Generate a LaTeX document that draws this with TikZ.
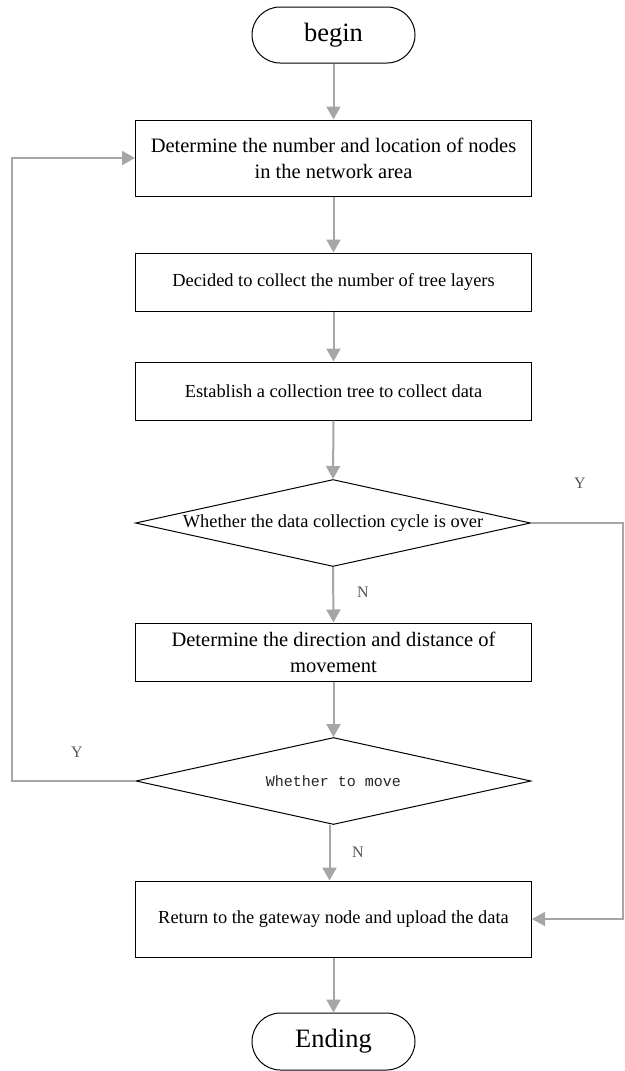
\documentclass[tikz,border=0pt]{standalone}
\usepackage{fontspec}
\setmainfont{Liberation Serif}
\newfontfamily\monof{Liberation Mono}
\usetikzlibrary{arrows.meta,shapes.geometric,shapes.misc}
\definecolor{arrowgray}{HTML}{A6A6A6}
\definecolor{labelgray}{HTML}{555555}
\tikzset{
  procbox/.style={draw=black, line width=1pt, rectangle, minimum width=396pt, inner sep=0pt, align=center},
  termbox/.style={draw=black, line width=1pt, rounded rectangle, minimum width=163pt, minimum height=56pt, inner sep=0pt, font=\fontsize{26.5}{30}\selectfont},
  decbox/.style={draw=black, line width=1pt, diamond, aspect=4.54, minimum width=395pt, minimum height=87pt, inner sep=0pt},
  flow/.style={draw=arrowgray, line width=2pt, -{Triangle[length=13pt,width=14pt]}},
  ylabel/.style={text=labelgray, font=\fontsize{16}{18}\selectfont},
  bigtxt/.style={font=\fontsize{20.5}{26}\selectfont},
  midtxt/.style={font=\fontsize{18.4}{22}\selectfont}
}
\begin{document}
\begin{tikzpicture}[x=1pt,y=-1pt]
\useasboundingbox (0,0) rectangle (624,1071);
\node[termbox] (begin) at (333.5,35) {begin};
\node[procbox, minimum height=76pt, bigtxt] (b1) at (333.5,158) {Determine the number and location of nodes\\in the network area};
\node[procbox, minimum height=58pt, midtxt] (b2) at (333.5,282) {Decided to collect the number of tree layers};
\node[procbox, minimum height=58pt, midtxt] (b3) at (333.5,391) {Establish a collection tree to collect data};
\node[decbox, midtxt] (d1) at (333,523) {Whether the data collection cycle is over};
\node[procbox, minimum height=58pt, bigtxt] (b4) at (333.5,652) {Determine the direction and distance of\\movement};
\node[decbox, font=\monof\fontsize{15}{18}\selectfont, text=black!85] (d2) at (333.5,781) {Whether to move};
\node[procbox, minimum height=76pt, midtxt] (b5) at (333.5,919) {Return to the gateway node and upload the data};
\node[termbox, minimum height=57pt] (end) at (333.5,1041.5) {Ending};

\coordinate (cR) at (622.5,523);
\coordinate (cL) at (12,781);

\draw[flow] (begin.south) -- (b1.north);
\draw[flow] (b1.south) -- (b2.north);
\draw[flow] (b2.south) -- (b3.north);
\draw[flow] (b3.south) -- (d1.north);
\draw[flow] (d1.south) -- (b4.north);
\draw[flow] (b4.south) -- (d2.north);
\draw[flow] ([xshift=-4pt]d2.south) -- ([xshift=-4pt]b5.north);
\draw[flow] (b5.south) -- (end.north);
\draw[flow] (d1.east) -- (cR) |- (b5.east);
\draw[flow] (d2.west) -- (cL) |- (b1.west);

\node[ylabel] (y1) at (580,483) {Y};
\node[ylabel] (n1) at (363,592) {N};
\node[ylabel] (y2) at (77,752) {Y};
\node[ylabel] (n2) at (358,852) {N};
\end{tikzpicture}
\end{document}
